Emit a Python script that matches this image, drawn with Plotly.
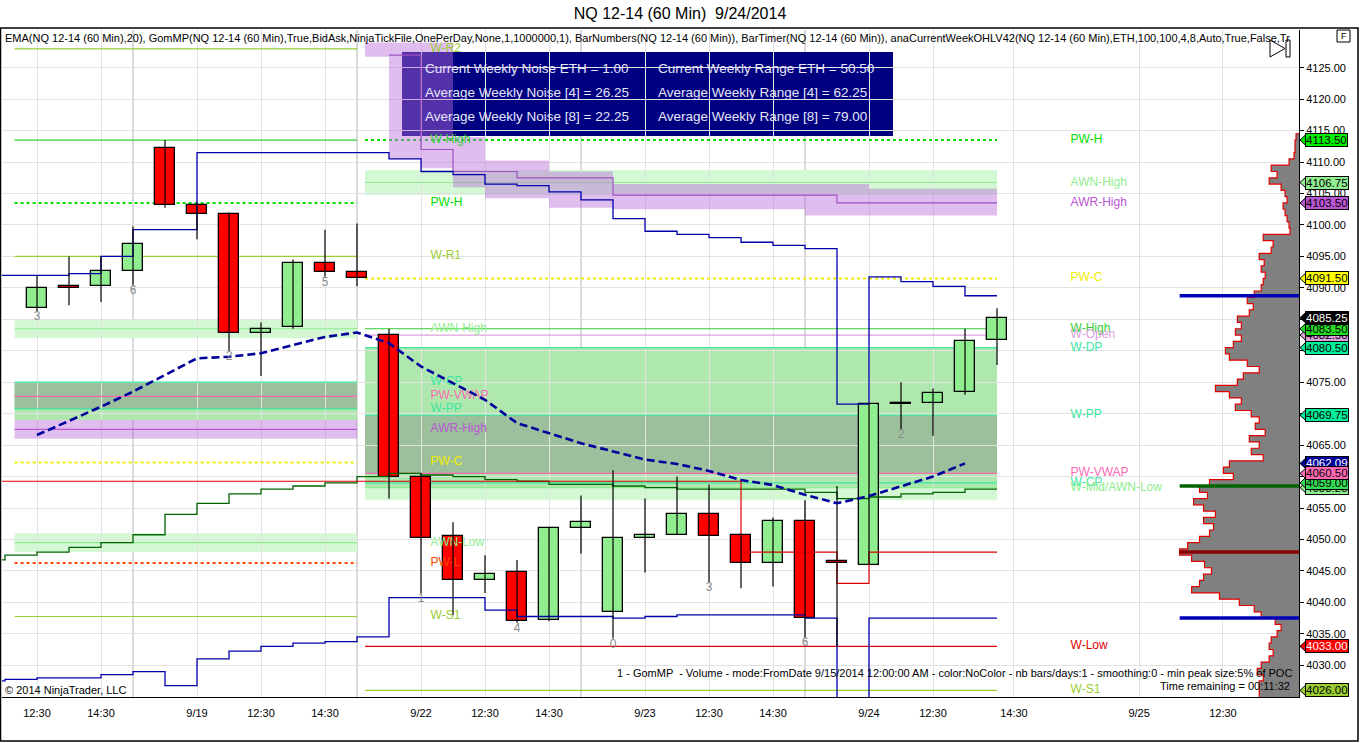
import plotly.graph_objects as go

# NQ 12-14, 60 min bars. bar index 0 = 9/18 12:30
bar_open = [4086.75, 4090.25, 4090.25, 4092.75, 4112.25, 4103.25, 4101.75, 4082.75, 4083.75, 4094.0,
            4092.5, 4082.5, 4060.0, 4050.5, 4043.5, 4044.75, 4037.25, 4051.75, 4038.5, 4050.25,
            4050.75, 4054.0, 4050.75, 4046.25, 4053.0, 4046.5, 4046.0, 4071.5, 4071.75, 4073.5, 4081.75]
bar_high = [4092.0, 4095.0, 4095.0, 4099.75, 4113.5, 4103.5, 4102.0, 4084.5, 4094.5, 4099.25,
            4100.25, 4083.5, 4060.5, 4052.75, 4047.5, 4046.75, 4052.0, 4057.0, 4061.0, 4056.5,
            4060.0, 4058.75, 4051.0, 4053.5, 4056.25, 4058.5, 4071.75, 4075.0, 4074.0, 4083.5, 4086.75]
bar_low = [4086.25, 4087.25, 4087.75, 4090.5, 4102.75, 4097.75, 4080.0, 4076.0, 4083.5, 4091.75,
           4090.25, 4056.5, 4041.5, 4038.0, 4041.5, 4036.75, 4037.0, 4047.75, 4034.25, 4044.75,
           4050.75, 4043.25, 4042.25, 4042.5, 4034.5, 4033.0, 4046.0, 4067.5, 4066.5, 4073.0, 4077.75]
bar_close = [4090.0, 4090.0, 4092.75, 4097.0, 4103.25, 4101.75, 4082.75, 4083.5, 4094.0, 4092.5,
             4091.5, 4060.0, 4050.25, 4043.5, 4044.5, 4037.0, 4051.75, 4052.75, 4050.25, 4050.75,
             4054.0, 4050.5, 4046.25, 4053.0, 4037.5, 4046.25, 4071.5, 4071.75, 4073.25, 4081.5, 4085.25]

# x axis labels (bar positions, future ones are extrapolated by the platform)
tick_pos = [0, 2, 5, 7, 9, 12, 14, 16, 19, 21, 23, 26, 28, 30.53, 34.44, 37.06]
tick_text = ['12:30', '14:30', '9/19', '12:30', '14:30', '9/22', '12:30', '14:30',
             '9/23', '12:30', '14:30', '9/24', '12:30', '14:30', '9/25', '12:30']
session_breaks = [3, 10, 17, 24]

# EMA(20)
ema_vals = [4066.6, 4068.8, 4071.1, 4073.5, 4076.1, 4078.8, 4079.05, 4079.6, 4080.9, 4082.2,
            4082.9, 4081.2, 4077.5, 4074.8, 4072.2, 4068.5, 4066.9, 4065.3, 4064.0, 4062.7,
            4062.0, 4060.9, 4059.45, 4058.65, 4057.1, 4055.75, 4056.9, 4058.4, 4060.0, 4062.09]

# GomMP developing lines, bars -2 .. 30
step_bars = list(range(-2, 31))
vah = [4092.0, 4092.0, 4092.0, 4092.25, 4095.0, 4099.25, 4099.25, 4111.5, 4111.5, 4111.5,
       4111.5, 4111.5, 4111.5, 4110.5, 4108.5, 4108.0, 4106.5, 4106.25, 4105.25, 4104.0,
       4101.0, 4099.0, 4098.5, 4098.0, 4097.25, 4096.75, 4096.25, 4071.5, 4091.75, 4091.0,
       4090.25, 4088.75, 4088.75]
val = [4027.5, 4027.75, 4028.0, 4028.0, 4028.5, 4029.0, 4026.75, 4031.0, 4032.25, 4033.0,
       4033.5, 4033.75, 4034.5, 4040.75, 4040.75, 4040.75, 4038.75, 4037.75, 4037.75, 4037.75,
       4037.5, 4037.75, 4038.0, 4038.0, 4038.0, 4038.0, 4037.5, 4020.0, 4037.5, 4037.5,
       4037.5, 4037.5, 4037.5]
vwap = [4046.75, 4047.5, 4048.0, 4048.75, 4049.5, 4050.75, 4054.0, 4055.75, 4057.25, 4058.0,
        4058.5, 4059.0, 4060.0, 4060.5, 4060.25, 4060.0, 4059.5, 4059.25, 4058.75, 4058.75,
        4058.5, 4058.25, 4058.0, 4058.0, 4058.0, 4058.0, 4057.5, 4056.5, 4056.75, 4057.25,
        4057.5, 4058.0, 4058.0]
poc = [4059.25] * 24 + [4048.0, 4048.0, 4048.0, 4043.0, 4048.0, 4048.0, 4048.0, 4048.0, 4048.0]

# AWR band of the current week, bars 10 .. 30
awr_bars = list(range(10, 31))
awr_line = [None, 4127.0, 4112.0, 4108.5, 4108.5, 4107.5, 4107.5, 4107.5, 4104.75, 4104.75,
            4104.75, 4104.75, 4104.75, 4104.75, 4104.75, 4103.5, 4103.5, 4103.5, 4103.5, 4103.5, 4103.5]
awr_top = [4129.0, 4129.0, 4129.0, 4114.0, 4110.25, 4110.25, 4108.5, 4108.5, 4106.5, 4106.5,
           4106.5, 4106.5, 4106.5, 4106.5, 4106.5, 4106.5, 4105.75, 4105.75, 4105.75, 4105.75, 4105.75]
awr_bot = [4126.75, 4110.5, 4109.0, 4106.0, 4104.25, 4104.25, 4102.75, 4102.75, 4102.5, 4102.5,
           4102.5, 4102.5, 4102.5, 4102.5, 4101.5, 4101.5, 4101.5, 4101.5, 4101.5, 4101.5, 4101.5]

# bar numbers
bar_number_at = [0, 3, 6, 9, 12, 15, 18, 21, 24, 27]
bar_number_txt = ['3', '6', '2', '5', '1', '4', '0', '3', '6', '2']

# weekly levels
prev_names = ['W-R2', 'W-High', 'PW-H', 'W-R1', 'AWN-High', 'W-CP', 'PW-VWAP', 'W-PP',
              'AWR-High', 'PW-C', 'AWN-Low', 'PW-L', 'W-S1']
prev_prices = [4128.0, 4113.5, 4103.5, 4095.0, 4083.5, 4075.0, 4072.75, 4070.75,
               4067.5, 4062.25, 4049.5, 4046.25, 4037.75]
cur_names = ['PW-H', 'AWN-High', 'PW-C', 'W-High', 'W-Open', 'W-DP', 'W-PP', 'PW-VWAP',
             'W-CP', 'W-Mid/AWN-Low', 'W-Low', 'W-S1']
cur_prices = [4113.5, 4106.75, 4091.5, 4083.5, 4082.5, 4080.5, 4069.75, 4060.5,
              4059.0, 4058.25, 4033.0, 4026.0]

prev_pale_bands = [(4082.0, 4085.0), (4048.0, 4051.0)]
prev_green_band = (4069.0, 4075.0)
prev_dark_band = (4070.75, 4075.0)
prev_purple_band = (4066.0, 4069.0)
cur_pale_bands = [(4104.75, 4108.75), (4056.25, 4060.25)]
cur_green_band = (4058.25, 4080.5)
cur_dark_band = (4060.5, 4069.75)

# volume profile from 9/15, one row per point
profile_levels = list(range(4025, 4115))
profile_volume = [40, 40, 40, 36, 42, 38, 30, 26, 30, 28,
                  22, 18, 24, 38, 45, 60, 80, 108, 100, 96,
                  88, 95, 108, 120, 112, 100, 90, 86, 96, 84,
                  96, 106, 92, 100, 90, 66, 76, 70, 36, 48,
                  40, 50, 34, 44, 40, 48, 64, 58, 70, 84,
                  62, 56, 40, 52, 70, 74, 66, 58, 64, 58,
                  62, 50, 46, 52, 45, 38, 36, 34, 38, 35,
                  40, 28, 26, 36, 9, 10, 12, 14, 16, 12,
                  14, 18, 30, 22, 28, 10, 5, 4, 4, 3]
profile_vah, profile_val, profile_poc, profile_vwap = 4088.75, 4037.5, 4048.0, 4058.5

# price markers on the axis (drawn in this order)
tag_prices = [4113.5, 4106.75, 4103.5, 4091.5, 4082.5, 4083.5, 4080.5, 4085.25,
              4069.75, 4058.25, 4059.0, 4062.09, 4060.5, 4033.0, 4026.0]
tag_text = ['4113.50', '4106.75', '4103.50', '4091.50', '4082.50', '4083.50', '4080.50', '4085.25',
            '4069.75', '4058.25', '4059.00', '4062.09', '4060.50', '4033.00', '4026.00']

# ---------------- styling ----------------
GREEN_UP = '#90ee90'
RED_DN = '#ff0000'
level_style = {
    'W-R2': ('#9acd32', 'solid'), 'W-R1': ('#9acd32', 'solid'), 'W-S1': ('#9acd32', 'solid'),
    'W-High': ('#32cd32', 'solid'), 'PW-H': ('#00dd00', 'dot'),
    'AWN-High': ('#90ee90', 'solid'), 'AWN-Low': ('#90ee90', 'solid'), 'W-Mid/AWN-Low': ('#90ee90', 'solid'),
    'W-CP': ('#3ce6a0', 'solid'), 'W-PP': ('#3ce6a0', 'solid'), 'W-DP': ('#3ce6a0', 'solid'),
    'PW-VWAP': ('#ff69b4', 'solid'), 'AWR-High': ('#ba55d3', 'solid'),
    'PW-C': ('#eeee00', 'dot'), 'PW-L': ('#ff4500', 'dot'),
    'W-Open': ('#dda0dd', 'solid'), 'W-Low': ('#e00000', 'solid'),
}
tag_bg = ['#00ee00', '#90ee90', '#ba55d3', '#ffff00', '#dda0dd', '#22dd22', '#00ee99', '#000000',
          '#00ee99', '#90ee90', '#33dd55', '#000099', '#ff69b4', '#ff0000', '#9acd32']
tag_fg = ['black', 'black', 'black', 'black', 'black', 'black', 'black', 'white',
          'black', 'black', 'black', 'white', 'black', 'white', 'black']

PREV_START, PREV_END = -0.7, 10.0
CUR_START, CUR_END = 10.25, 30.0
PREV_LABEL_X, CUR_LABEL_X = 12.3, 32.3

W, H = 1360, 743
PLOT_L, PLOT_R, PLOT_T, PLOT_B = 2, 1299, 30, 697
PLOT_W, PLOT_H = PLOT_R - PLOT_L, PLOT_B - PLOT_T
FONT = 'Arial, Liberation Sans, sans-serif'


def px_x(px):
    return (px - PLOT_L) / PLOT_W


def px_y(py):
    return (PLOT_B - py) / PLOT_H


fig = go.Figure()

# volume profile (grows leftwards from the price axis)
prof_x, prof_y = [0], [profile_levels[0] - 0.5]
for lv, v in zip(profile_levels, profile_volume):
    prof_x += [v, v]
    prof_y += [lv - 0.5, lv + 0.5]
prof_x.append(0)
prof_y.append(profile_levels[-1] + 0.5)
fig.add_trace(go.Scatter(x=prof_x, y=prof_y, xaxis='x2', mode='lines', fill='toself',
                         fillcolor='#808080', line=dict(color='#e00000', width=1.2),
                         hoverinfo='skip'))
pmax = max(profile_volume)
for lvl, col in [(profile_vah, '#0000bb'), (profile_val, '#0000bb'),
                 (profile_poc, '#8b0000'), (profile_vwap, '#006400')]:
    fig.add_trace(go.Scatter(x=[pmax, 0], y=[lvl, lvl], xaxis='x2', mode='lines',
                             line=dict(color=col, width=3.5), hoverinfo='skip'))

# AWR band
x_awr = [CUR_START] + awr_bars[1:]
fig.add_trace(go.Scatter(x=x_awr, y=awr_bot, mode='lines', line=dict(width=0, shape='hv'),
                         hoverinfo='skip'))
fig.add_trace(go.Scatter(x=x_awr, y=awr_top, mode='lines', line=dict(width=0, shape='hv'),
                         fill='tonexty', fillcolor='rgba(185,110,220,0.45)', hoverinfo='skip'))

# level labels (under the candles)
fig.add_trace(go.Scatter(x=[PREV_LABEL_X] * len(prev_names), y=prev_prices, mode='text',
                         text=prev_names, textposition='middle right',
                         textfont=dict(size=12, family=FONT,
                                       color=[level_style[n][0] for n in prev_names]),
                         hoverinfo='skip'))
fig.add_trace(go.Scatter(x=[CUR_LABEL_X] * (len(cur_names) + 1), y=cur_prices + [awr_line[-1]],
                         mode='text', text=cur_names + ['AWR-High'], textposition='middle right',
                         textfont=dict(size=12, family=FONT,
                                       color=[level_style[n][0] for n in cur_names + ['AWR-High']]),
                         hoverinfo='skip'))

# developing lines
fig.add_trace(go.Scatter(x=awr_bars, y=awr_line, mode='lines',
                         line=dict(color='#a050c0', width=1.2, shape='hv'), hoverinfo='skip'))
fig.add_trace(go.Scatter(x=step_bars, y=vwap, mode='lines',
                         line=dict(color='#006400', width=1.3, shape='hv'), hoverinfo='skip'))
fig.add_trace(go.Scatter(x=step_bars, y=poc, mode='lines',
                         line=dict(color='#dd0000', width=1.2, shape='hv'), hoverinfo='skip'))
fig.add_trace(go.Scatter(x=step_bars, y=vah, mode='lines',
                         line=dict(color='#0000aa', width=1.3, shape='hv'), hoverinfo='skip'))
fig.add_trace(go.Scatter(x=step_bars, y=val, mode='lines',
                         line=dict(color='#0000aa', width=1.3, shape='hv'), hoverinfo='skip'))

# candles: wicks then bodies
bars = list(range(len(bar_open)))
wx, wy = [], []
for i in bars:
    wx += [i, i, None]
    wy += [bar_low[i], bar_high[i], None]
fig.add_trace(go.Scatter(x=wx, y=wy, mode='lines', line=dict(color='black', width=1.2),
                         hoverinfo='skip'))
fig.add_trace(go.Bar(x=bars, y=[abs(c - o) for o, c in zip(bar_open, bar_close)],
                     base=[min(o, c) for o, c in zip(bar_open, bar_close)], width=0.62,
                     marker=dict(color=[GREEN_UP if c > o else RED_DN for o, c in zip(bar_open, bar_close)],
                                 line=dict(color='black', width=1.3)),
                     hoverinfo='skip'))

# EMA
fig.add_trace(go.Scatter(x=list(range(len(ema_vals))), y=ema_vals, mode='lines',
                         line=dict(color='#00009a', width=2.6, dash='8px,4px'), hoverinfo='skip'))

# bar numbers
fig.add_trace(go.Scatter(x=bar_number_at, y=[bar_low[i] for i in bar_number_at], mode='text',
                         text=bar_number_txt, textposition='bottom center',
                         textfont=dict(size=12, family=FONT, color='#8c8c8c'), hoverinfo='skip'))

shapes = []


def band(x0, x1, lo_hi, color, layer='below'):
    shapes.append(dict(type='rect', xref='x', yref='y', x0=x0, x1=x1, y0=lo_hi[0], y1=lo_hi[1],
                       fillcolor=color, line=dict(width=0), layer=layer))


for b in prev_pale_bands:
    band(PREV_START, PREV_END, b, '#d4f7d4')
band(PREV_START, PREV_END, prev_green_band, '#b0e8b0')
band(PREV_START, PREV_END, prev_dark_band, '#9cbf9c')
band(PREV_START, PREV_END, prev_purple_band, 'rgba(185,110,220,0.45)', 'between')
for b in cur_pale_bands:
    band(CUR_START, CUR_END, b, '#d4f7d4')
band(CUR_START, CUR_END, cur_green_band, '#aee8ae')
band(CUR_START, CUR_END, cur_dark_band, '#9cbf9c')

for s in session_breaks:
    shapes.append(dict(type='line', xref='x', yref='paper', x0=s, x1=s, y0=0, y1=1,
                       line=dict(color='#b4b4b4', width=1), layer='between'))

for names, prices, x0, x1 in [(prev_names, prev_prices, PREV_START, PREV_END),
                              (cur_names, cur_prices, CUR_START, CUR_END)]:
    for n, p in zip(names, prices):
        col, dash = level_style[n]
        shapes.append(dict(type='line', xref='x', yref='y', x0=x0, x1=x1, y0=p, y1=p,
                           line=dict(color=col, width=2 if dash == 'dot' else 1.2, dash=dash),
                           layer='between'))

# info box
shapes.append(dict(type='rect', xref='paper', yref='paper', x0=px_x(402), x1=px_x(893),
                   y0=px_y(136), y1=px_y(52), fillcolor='#000080', line=dict(width=0),
                   layer='between'))

# price tags: arrow heads
half = 6.5 * (4131.0 - 4024.95) / PLOT_H
for p, bg in zip(tag_prices, tag_bg):
    shapes.append(dict(type='path', xref='paper', yref='y',
                       path=f'M {px_x(1300)},{p} L {px_x(1307)},{p + half} L {px_x(1307)},{p - half} Z',
                       fillcolor=bg, line=dict(color='black', width=1)))

# frame, icons
shapes.append(dict(type='rect', xref='paper', yref='paper', x0=px_x(0.5), x1=px_x(1358),
                   y0=px_y(741), y1=px_y(28), line=dict(color='black', width=1.5)))
shapes.append(dict(type='rect', xref='paper', yref='paper', x0=px_x(1337), x1=px_x(1350),
                   y0=px_y(42), y1=px_y(30), line=dict(color='black', width=1)))
shapes.append(dict(type='path', xref='paper', yref='paper',
                   path=f'M {px_x(1270)},{px_y(40)} L {px_x(1285)},{px_y(48.5)} L {px_x(1270)},{px_y(57)} Z',
                   line=dict(color='black', width=1)))
shapes.append(dict(type='rect', xref='paper', yref='paper', x0=px_x(1286), x1=px_x(1290),
                   y0=px_y(57), y1=px_y(40), line=dict(color='black', width=1)))

annotations = []
box_rows = [('Current Weekly Noise ETH = 1.00', 'Current Weekly Range ETH = 50.50'),
            ('Average Weekly Noise [4] = 26.25', 'Average Weekly Range [4] = 62.25'),
            ('Average Weekly Noise [8] = 22.25', 'Average Weekly Range [8] = 79.00')]
for r, (a, b) in enumerate(box_rows):
    for xpx, t in [(423, a), (656, b)]:
        annotations.append(dict(xref='paper', yref='paper', x=px_x(xpx), y=px_y(68 + 24 * r),
                                text=t, showarrow=False, xanchor='left', yanchor='middle',
                                font=dict(size=13.5, color='#e6e6fa', family=FONT)))

for p, t, bg, fg in zip(tag_prices, tag_text, tag_bg, tag_fg):
    annotations.append(dict(xref='paper', yref='y', x=px_x(1305), y=p, text=t, showarrow=False,
                            xanchor='left', yanchor='middle', bgcolor=bg, bordercolor='black',
                            borderwidth=1, borderpad=0, font=dict(size=11.5, color=fg, family=FONT)))

annotations += [
    dict(xref='paper', yref='paper', x=px_x(3), y=px_y(38), xanchor='left', yanchor='middle',
         showarrow=False, font=dict(size=11, family=FONT, color='black'),
         text='EMA(NQ 12-14 (60 Min),20), GomMP(NQ 12-14 (60 Min),True,BidAsk,NinjaTickFile,OnePerDay,'
              'None,1,1000000,1), BarNumbers(NQ 12-14 (60 Min)), BarTimer(NQ 12-14 (60 Min)), '
              'anaCurrentWeekOHLV42(NQ 12-14 (60 Min),ETH,100,100,4,8,Auto,True,False,Tr'),
    dict(xref='paper', yref='paper', x=px_x(1294), y=px_y(673), xanchor='right', yanchor='middle',
         showarrow=False, font=dict(size=11, family=FONT, color='black'),
         text='1 - GomMP  - Volume - mode:FromDate 9/15/2014 12:00:00 AM - color:NoColor - '
              'nb bars/days:1 - smoothing:0 - min peak size:5% of POC'),
    dict(xref='paper', yref='paper', x=px_x(1292), y=px_y(686), xanchor='right', yanchor='middle',
         showarrow=False, font=dict(size=11, family=FONT, color='black'),
         text='Time remaining = 00:11:32'),
    dict(xref='paper', yref='paper', x=px_x(3), y=px_y(690), xanchor='left', yanchor='middle',
         showarrow=False, font=dict(size=11, family=FONT, color='black'),
         text='© 2014 NinjaTrader, LLC'),
    dict(xref='paper', yref='paper', x=px_x(1343.5), y=px_y(36), xanchor='center', yanchor='middle',
         showarrow=False, font=dict(size=9, family=FONT, color='black'), text='F'),
]

fig.update_layout(
    width=W, height=H,
    margin=dict(l=PLOT_L, r=W - PLOT_R, t=PLOT_T, b=H - PLOT_B),
    paper_bgcolor='white', plot_bgcolor='white', showlegend=False,
    font=dict(family=FONT, size=11, color='black'),
    title=dict(text='NQ 12-14 (60 Min)  9/24/2014', x=0.5, xanchor='center',
               y=1 - 13 / H, yanchor='middle', font=dict(size=16, color='black', family=FONT)),
    xaxis=dict(range=[(PLOT_L - 37) / 32, (PLOT_R - 37) / 32], tickvals=tick_pos, ticktext=tick_text,
               showgrid=True, gridcolor='#e2e2e2', zeroline=False, showline=True,
               linecolor='black', linewidth=1, ticks='', tickfont=dict(size=11),
               ticklabelstandoff=6),
    xaxis2=dict(overlaying='x', anchor='y', range=[pmax / 0.092, 0], visible=False),
    yaxis=dict(side='right', range=[4024.95, 4131.0], tickvals=list(range(4030, 4130, 5)),
               tickformat='.2f', showgrid=True, gridcolor='#e2e2e2', zeroline=False,
               showline=True, linecolor='black', linewidth=1, ticks='outside', ticklen=4,
               tickcolor='black', tickfont=dict(size=11)),
    shapes=shapes, annotations=annotations, bargap=0,
)

# page body has a default margin; remove it so the figure fills the window
fig.write_html('out.html', config={'displayModeBar': False},
               post_script="document.body.style.margin='0';")
